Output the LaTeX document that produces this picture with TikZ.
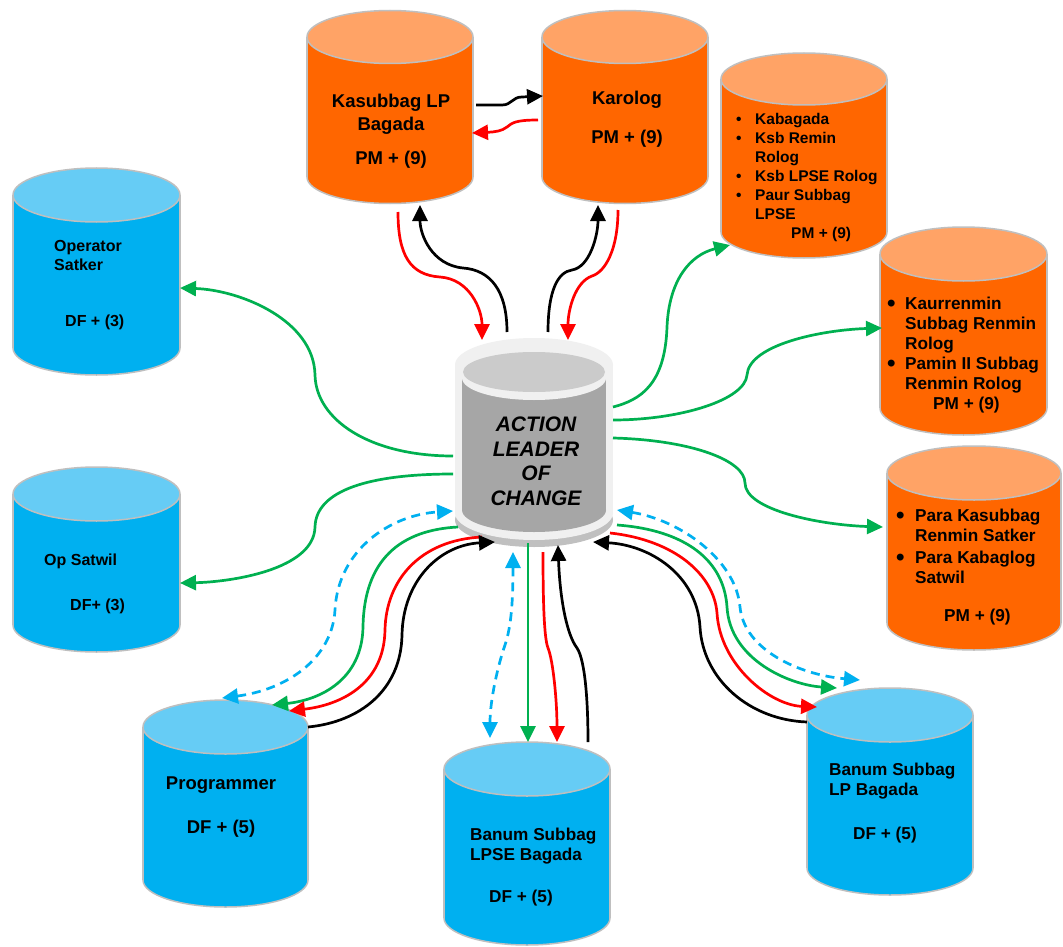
\documentclass[tikz,border=0pt]{standalone}
\usepackage{fontspec}
\usepackage{graphicx}
\setmainfont{Liberation Sans}
\usetikzlibrary{arrows.meta}
\definecolor{org}{HTML}{FF6600}
\definecolor{orgtop}{HTML}{FFA366}
\definecolor{blu}{HTML}{00B0F0}
\definecolor{blutop}{HTML}{66CCF5}
\definecolor{cline}{HTML}{BFBFBF}
\definecolor{grn}{HTML}{00B050}
\definecolor{rd}{HTML}{FF0000}
\definecolor{ltgrey}{HTML}{F0F0F0}
\definecolor{midgrey}{HTML}{A6A6A6}
\definecolor{topgrey}{HTML}{CBCBCB}
\definecolor{shadgrey}{HTML}{C0C0C0}
\newcommand\fsz[2]{\fontsize{#1}{#2}\selectfont}
% name, cx, ytop, ybot, rx, ry, colour
\newcommand\cylinderdraw[7]{%
  \filldraw[fill=#7, draw=cline, line width=1.5pt] (#2,#4) ellipse [x radius=#5pt, y radius=#6pt];
  \fill[#7] (#2-#5,#3) rectangle (#2+#5,#4);
  \draw[cline, line width=1.5pt] (#2-#5,#3) -- (#2-#5,#4) (#2+#5,#3) -- (#2+#5,#4);
  \filldraw[fill=#7top, draw=cline, line width=1.5pt] (#2,#3) ellipse [x radius=#5pt, y radius=#6pt];
  \coordinate (#1) at (#2,{(#3+#4)/2});
}
\newcommand\bul[1]{\makebox[#1][l]{\smash{\raisebox{-0.14em}{\scalebox{1.4}{•}}}}}
\newcommand\sbul[1]{\makebox[#1][l]{•}}
\tikzset{
  conn/.style={line width=2.7pt},
  fwd/.style={-{Triangle[length=16pt,width=15pt]}},
  twoway/.style={{Triangle[length=16pt,width=15pt]}-{Triangle[length=16pt,width=15pt]}},
  dsh/.style={dash pattern=on 9pt off 6pt},
  txt/.style={inner sep=0pt, text=black},
}
\begin{document}
\begin{tikzpicture}[x=1pt,y=-1pt]
\fill[white] (0,0) rectangle (1063,947);
\useasboundingbox (0,0) rectangle (1063,947);

% cylinders
\cylinderdraw{kas}{390}{37}{177}{83}{26.5}{org}
\cylinderdraw{kar}{625}{37}{177}{83}{26.5}{org}
\cylinderdraw{kab}{804}{79}{232}{83}{26}{org}
\cylinderdraw{kau}{963.5}{254}{408}{83.5}{27}{org}
\cylinderdraw{para}{974}{473}{623}{87}{27}{org}
\cylinderdraw{ops}{96.5}{195}{348}{83.5}{27}{blu}
\cylinderdraw{opw}{96.5}{494}{625}{83.5}{27}{blu}
\cylinderdraw{prg}{225.5}{727}{880}{82.5}{27}{blu}
\cylinderdraw{lpse}{527}{769}{918}{83}{27}{blu}
\cylinderdraw{lpb}{890}{715}{868}{83}{27}{blu}

% centre cylinder
\fill[shadgrey] (534,520) ellipse [x radius=79pt, y radius=27pt];
\fill[ltgrey] (534,513) ellipse [x radius=79pt, y radius=27pt];
\fill[ltgrey] (455,365) rectangle (613,513);
\fill[ltgrey] (534,365) ellipse [x radius=79pt, y radius=27pt];
\fill[midgrey] (534,510) ellipse [x radius=72pt, y radius=22pt];
\fill[midgrey] (462,378) rectangle (606,510);
\fill[ltgrey] (534,378) ellipse [x radius=72pt, y radius=22pt];
\fill[topgrey] (534,372) ellipse [x radius=71pt, y radius=20pt];
\coordinate (cen) at (534,440);

% connector end points
\coordinate (kasB1) at (398,212); \coordinate (kasB2) at (420,205);
\coordinate (karB1) at (598,205); \coordinate (karB2) at (618,210);
\coordinate (cenT1) at (482,340); \coordinate (cenT2) at (507,332);
\coordinate (cenT3) at (548,332); \coordinate (cenT4) at (568,340);
\coordinate (kasR1) at (476,105); \coordinate (kasR2) at (472,133);
\coordinate (karL1) at (543,96);  \coordinate (karL2) at (538,120);
\coordinate (cenR1) at (613,407); \coordinate (kabL) at (730,245);
\coordinate (cenR2) at (613,420); \coordinate (kauL) at (882,328);
\coordinate (cenR3) at (613,438); \coordinate (paraL) at (883,527);
\coordinate (cenL1) at (453,456); \coordinate (opsR) at (180,288);
\coordinate (cenL2) at (453,474); \coordinate (opwR) at (180,583);
\coordinate (cenL3) at (453,511); \coordinate (prgT1) at (222,698);
\coordinate (cenB1) at (458,527); \coordinate (prgT2) at (272,705);
\coordinate (cenB2) at (482,537); \coordinate (prgT3) at (289,711);
\coordinate (cenB3) at (495,542); \coordinate (prgT4) at (308,727);
\coordinate (cenB4) at (513,552); \coordinate (lpseT1) at (490,738);
\coordinate (cenB5) at (528,543); \coordinate (lpseT2) at (528,742);
\coordinate (cenB6) at (543,552); \coordinate (lpseT3) at (557,742);
\coordinate (cenB7) at (558,545); \coordinate (lpseT4) at (588,742);
\coordinate (cenR4) at (617,510); \coordinate (lpbT1) at (860,680);
\coordinate (cenR5) at (617,525); \coordinate (lpbT2) at (837,688);
\coordinate (cenR6) at (610,533); \coordinate (lpbT3) at (817,707);
\coordinate (cenB8) at (593,542); \coordinate (lpbL) at (807,722);

% top connectors
\draw[conn, rd, fwd] (kasB1) .. controls (398,255) and (410,275) .. (440,277) .. controls (470,279) and (482,310) .. (cenT1);
\draw[conn, black, fwd] (cenT2) .. controls (507,290) and (490,270) .. (463,268) .. controls (432,265) and (420,235) .. (kasB2);
\draw[conn, black, fwd] (cenT3) .. controls (548,290) and (558,272) .. (572,270) .. controls (590,267) and (598,235) .. (karB1);
\draw[conn, rd, fwd] (karB2) .. controls (618,250) and (605,272) .. (592,276) .. controls (575,282) and (568,310) .. (cenT4);
\draw[conn, black, fwd] (kasR1) -- (502,105) .. controls (512,105) and (512,97) .. (522,97) -- (karL1);
\draw[conn, rd, fwd] (karL2) .. controls (515,120) and (512,123) .. (507,127) .. controls (502,131) and (495,132) .. (kasR2);

% right greens
\draw[conn, grn, fwd] (cenR1) .. controls (640,400) and (665,385) .. (667,327) .. controls (669,280) and (690,255) .. (kabL);
\draw[conn, grn, fwd] (cenR2) .. controls (680,420) and (745,400) .. (747,375) .. controls (749,345) and (820,330) .. (kauL);
\draw[conn, grn, fwd] (cenR3) .. controls (690,440) and (745,460) .. (745,483) .. controls (745,510) and (820,525) .. (paraL);

% left greens
\draw[conn, grn, fwd] (cenL1) .. controls (370,456) and (316,420) .. (315,375) .. controls (314,320) and (240,290) .. (opsR);
\draw[conn, grn, fwd] (cenL2) .. controls (370,474) and (316,490) .. (315,527) .. controls (314,570) and (230,582) .. (opwR);

% programmer
\draw[conn, blu, dsh, twoway] (prgT1) .. controls (285,690) and (332,660) .. (335,610) .. controls (338,550) and (390,515) .. (cenL3);
\draw[conn, grn, fwd] (cenB1) .. controls (400,530) and (364,560) .. (363,627) .. controls (362,680) and (320,700) .. (prgT2);
\draw[conn, rd, fwd] (cenB2) .. controls (420,540) and (386,580) .. (385,630) .. controls (384,685) and (340,705) .. (prgT3);
\draw[conn, black, fwd] (prgT4) .. controls (360,722) and (401,690) .. (402,635) .. controls (403,580) and (440,545) .. (cenB3);

% lpse
\draw[conn, blu, dsh, twoway] (cenB4) .. controls (513,610) and (510,630) .. (505,645) .. controls (498,665) and (490,700) .. (lpseT1);
\draw[conn, grn, fwd] (cenB5) -- (lpseT2);
\draw[conn, rd, fwd] (cenB6) .. controls (543,600) and (544,638) .. (548,648) .. controls (553,660) and (557,700) .. (lpseT3);
\draw[conn, black, fwd] (lpseT4) .. controls (588,700) and (585,660) .. (577,648) .. controls (567,635) and (560,600) .. (cenB7);

% lp bagada
\draw[conn, blu, dsh, twoway] (cenR4) .. controls (680,520) and (736,560) .. (740,607) .. controls (744,650) and (800,675) .. (lpbT1);
\draw[conn, grn, fwd] (cenR5) .. controls (685,530) and (724,560) .. (727,607) .. controls (730,660) and (790,685) .. (lpbT2);
\draw[conn, rd, fwd] (cenR6) .. controls (675,540) and (714,575) .. (717,613) .. controls (720,665) and (770,705) .. (lpbT3);
\draw[conn, black, fwd] (lpbL) .. controls (750,720) and (703,680) .. (700,627) .. controls (697,575) and (650,545) .. (cenB8);

% texts
\node[txt, anchor=north, align=center, font=\bfseries\fsz{18.5}{23}] (kasT) at (391,93.5) {Kasubbag LP\\Bagada\\[11pt]PM + (9)};
\node[txt, anchor=north, align=center, font=\bfseries\fsz{18.5}{23}] (karT) at (627,91.3) {Karolog\\[16pt]PM + (9)};
\node[txt, anchor=north west, align=left, font=\bfseries\fsz{15.5}{19}] (kabT) at (736,113.4) {\sbul{19pt}Kabagada\\\sbul{19pt}Ksb Remin\\\hspace*{19pt}Rolog\\\sbul{19pt}Ksb LPSE Rolog\\\sbul{19pt}Paur Subbag\\\hspace*{19pt}LPSE\\\hspace*{55pt}PM + (9)};
\node[txt, anchor=north west, align=left, font=\bfseries\fsz{17.2}{20}] (kauT) at (887,296.8) {\bul{18pt}Kaurrenmin\\\hspace*{18pt}Subbag Renmin\\\hspace*{18pt}Rolog\\\bul{18pt}Pamin II Subbag\\\hspace*{18pt}Renmin Rolog\\\hspace*{46pt}PM + (9)};
\node[txt, anchor=north west, align=left, font=\bfseries\fsz{17.2}{20}] (paraT) at (896,508.8) {\bul{19pt}Para Kasubbag\\\hspace*{19pt}Renmin Satker\\[2pt]\bul{19pt}Para Kabaglog\\\hspace*{19pt}Satwil\\[18pt]\hspace*{48pt}PM + (9)};
\node[txt, anchor=north west, align=left, font=\bfseries\fsz{16}{19}] (opsT) at (54,240.2) {Operator\\Satker\\[37pt]\hspace*{11pt}DF + (3)};
\node[txt, anchor=north west, align=left, font=\bfseries\fsz{16}{19}] (opwT) at (44,554.2) {Op Satwil\\[26pt]\hspace*{26pt}DF+ (3)};
\node[txt, anchor=north, align=center, font=\bfseries\fsz{18.5}{23}] (prgT) at (221,776.3) {Programmer\\[21pt]DF + (5)};
\node[txt, anchor=north west, align=left, font=\bfseries\fsz{17.2}{20}] (lpseT) at (470,827.8) {Banum Subbag\\LPSE Bagada\\[22pt]\hspace*{19pt}DF + (5)};
\node[txt, anchor=north west, align=left, font=\bfseries\fsz{17.2}{20}] (lpbT) at (829,762.8) {Banum Subbag\\LP Bagada\\[24pt]\hspace*{24pt}DF + (5)};
\node[txt, anchor=north, align=center, font=\bfseries\itshape\fsz{21}{24.5}] (cenT) at (536,417) {ACTION\\LEADER\\OF\\CHANGE};
\end{tikzpicture}
\end{document}
